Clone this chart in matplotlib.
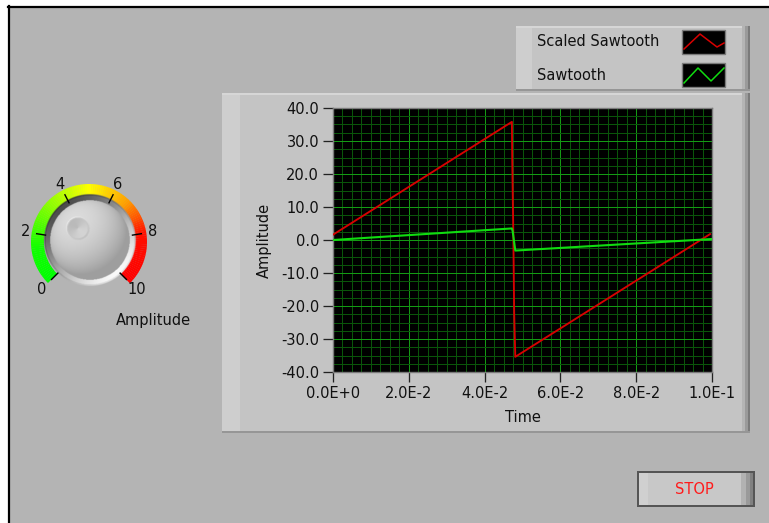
import numpy as np
import matplotlib
matplotlib.use("Agg")
import matplotlib.pyplot as plt
from matplotlib.patches import Rectangle, Wedge
from matplotlib.colors import LinearSegmentedColormap
from matplotlib.ticker import MultipleLocator, FixedLocator, FixedFormatter

plt.rcParams['font.family'] = ['DejaVu Sans']
plt.rcParams['axes.unicode_minus'] = False

# ---------------- data ----------------
series_names = ["Scaled Sawtooth", "Sawtooth"]
time_scaled = [0.0, 0.0472, 0.0473, 0.0476, 0.0478, 0.0481, 0.0995]
scaled_sawtooth = [1.6, 35.8, 24.2, 0.0, -22.0, -35.4, 1.8]
time_saw = [0.0, 0.0472, 0.0474, 0.0481, 0.1000]
sawtooth = [0.0, 3.5, 2.7, -3.2, 0.3]

x_ticks = [0.0, 0.02, 0.04, 0.06, 0.08, 0.10]
x_tick_labels = ["0.0E+0", "2.0E-2", "4.0E-2", "6.0E-2", "8.0E-2", "1.0E-1"]
y_ticks = [-40, -30, -20, -10, 0, 10, 20, 30, 40]
y_tick_labels = ["-40.0", "-30.0", "-20.0", "-10.0", "0.0", "10.0", "20.0", "30.0", "40.0"]

knob_values = [0, 2, 4, 6, 8, 10]
knob_labels = ["0", "2", "4", "6", "8", "10"]
knob_value = 3.3

W, H = 769, 523
FS = 10.5
PX = 0.72  # one pixel in points
fig = plt.figure(figsize=(W / 100, H / 100), dpi=100)
fig.patch.set_facecolor('white')

bg = fig.add_axes([0, 0, 1, 1])
bg.set_xlim(0, W)
bg.set_ylim(H, 0)
bg.axis('off')


def rect(x0, y0, x1, y1, fc, z=1, ec='none', lw=0):
    bg.add_patch(Rectangle((x0, y0), x1 - x0, y1 - y0, facecolor=fc,
                           edgecolor=ec, lw=lw, zorder=z))


# panel
rect(8, 6, W, H, '#b4b4b4', z=0)
bg.plot([8.5, 8.5], [6, H], color='black', lw=1.6, zorder=1)
bg.plot([8, W], [6.5, 6.5], color='black', lw=1.6, zorder=1)

# graph frame
rect(222, 93, 750, 433, '#c4c4c4')
rect(222, 93, 240, 433, '#cecece', z=1.1)
rect(222, 93, 750, 94.5, '#d6d6d6', z=1.2)
rect(742, 93, 745, 433, '#b4b4b4', z=1.2)
rect(745, 93, 748, 433, '#9a9a9a', z=1.2)
rect(748, 93, 750, 433, '#7a7a7a', z=1.2)
rect(222, 431, 750, 433, '#969696', z=1.2)

# legend frame
rect(516, 26, 750, 91, '#c4c4c4')
rect(516, 26, 532, 91, '#cecece', z=1.1)
rect(516, 26, 750, 27.5, '#d6d6d6', z=1.2)
rect(742, 26, 745, 91, '#b4b4b4', z=1.2)
rect(745, 26, 748, 91, '#9a9a9a', z=1.2)
rect(748, 26, 750, 91, '#7a7a7a', z=1.2)
rect(516, 89, 750, 91, '#969696', z=1.2)

legend_colors = ['#d80000', '#10dc10']
row_y = [42, 75]
sw_shapes = [([684, 700, 717, 724], [49, 34, 47, 43]),
             ([684, 698, 711, 724], [83, 68, 81, 68])]
for name, col, ry, (sx, sy) in zip(series_names, legend_colors, row_y, sw_shapes):
    bg.text(537, ry, name, fontsize=FS, color='#111111', ha='left', va='center', zorder=3)
    rect(682, ry - 12, 725, ry + 12, 'black', z=2, ec='#7a7a7a', lw=1)
    bg.plot(sx, sy, color=col, lw=1.1, zorder=3)

# stop button
rect(637, 471, 755, 507, '#555555', z=1)
rect(639, 473, 753, 505, '#c8c8c8', z=1.1)
rect(639, 473, 648, 505, '#d0d0d0', z=1.2)
rect(741, 473, 746, 505, '#b2b2b2', z=1.2)
rect(746, 473, 750, 505, '#9a9a9a', z=1.2)
rect(750, 473, 753, 505, '#808080', z=1.2)
bg.text(694, 490, "STOP", fontsize=FS, color='#ff1a1a', ha='center', va='center', zorder=3)

# ---------------- knob ----------------
cx, cy = 89, 242
r_out, r_in = 58, 45
cmap = LinearSegmentedColormap.from_list('knob', [
    (0.0, '#00ff00'), (0.14, '#10ff00'), (0.5, '#ffff00'),
    (0.66, '#ffa000'), (0.8, '#ff1000'), (1.0, '#ff0000')])
nseg = 120
for i in range(nseg):
    v0 = 10 * i / nseg
    v1 = 10 * (i + 1) / nseg
    bg.add_patch(Wedge((cx, cy), r_out, 27 * v0 - 225, 27 * v1 - 225 + 0.3,
                       width=r_out - r_in, facecolor=cmap((v0 + v1) / 20),
                       edgecolor='none', zorder=2))

for v, lab in zip(knob_values, knob_labels):
    phi = np.deg2rad(225 - 27 * v)
    x0, y0 = cx + 44 * np.cos(phi), cy - 44 * np.sin(phi)
    x1, y1 = cx + 53 * np.cos(phi), cy - 53 * np.sin(phi)
    bg.plot([x0, x1], [y0, y1], color='black', lw=1.0, zorder=4)
    R = 67 if v in (0, 10) else 64
    bg.text(cx + R * np.cos(phi), cy - R * np.sin(phi), lab, fontsize=FS,
            ha='center', va='center', color='#111111', zorder=4)

bg.text(153, 321, "Amplitude", fontsize=FS, ha='center', va='center', color='#111111', zorder=4)

# knob body (shaded image)
kx, ky = 90, 240
RB = 48
n = 200
g = np.linspace(-RB, RB, n)
X, Y = np.meshgrid(g, g)
rr = np.sqrt(X ** 2 + Y ** 2)
img = np.zeros((n, n, 4))
ang = np.arctan2(Y, X)  # y down
bez = 0.64 + 0.34 * np.cos(ang - np.deg2rad(50))
bez = np.where(rr > 44.5, bez - 0.08, bez)
rb = 40.0
nx = X / rb
ny = Y / rb
nz = np.sqrt(np.clip(1 - nx ** 2 - ny ** 2, 0, 1))
L = np.array([-0.40, -0.50, 0.77])
L = L / np.linalg.norm(L)
dot = nx * L[0] + ny * L[1] + nz * L[2]
ball = 0.62 + 0.24 * np.clip(dot, 0, 1)
shade = np.where(rr < rb, ball, bez)
pphi = np.deg2rad(225 - 27 * knob_value)
dx, dy = 17 * np.cos(pphi), -17 * np.sin(pphi)
dr = np.sqrt((X - dx) ** 2 + (Y - dy) ** 2)
dang = np.arctan2(Y - dy, X - dx)
dimple = 0.78 + 0.05 * np.cos(dang - np.deg2rad(45))
shade = np.where(dr < 11, dimple, shade)
rim = (dr >= 10) & (dr < 12)
shade = np.where(rim, shade - 0.06 * np.cos(dang - np.deg2rad(45)), shade)
shade = np.clip(shade, 0, 1)
img[..., 0] = shade
img[..., 1] = shade
img[..., 2] = shade
img[..., 3] = np.clip(46.5 - rr, 0, 1)
bg.imshow(img, extent=(kx - RB, kx + RB, ky + RB, ky - RB), origin='upper',
          interpolation='bilinear', zorder=3)
bg.set_xlim(0, W)
bg.set_ylim(H, 0)

# ---------------- graph ----------------
left, right, top, bottom = 333, 712, 108, 372
ax = fig.add_axes([left / W, 1 - bottom / H, (right - left) / W, (bottom - top) / H])
ax.set_facecolor('black')
ax.set_xlim(0, 0.1)
ax.set_ylim(-40, 40)
ax.xaxis.set_major_locator(FixedLocator(x_ticks))
ax.xaxis.set_major_formatter(FixedFormatter(x_tick_labels))
ax.yaxis.set_major_locator(FixedLocator(y_ticks))
ax.yaxis.set_major_formatter(FixedFormatter(y_tick_labels))
ax.xaxis.set_minor_locator(MultipleLocator(0.0025))
ax.yaxis.set_minor_locator(MultipleLocator(2.5))
ax.grid(which='minor', color='#0a550a', lw=PX, antialiased=False)
ax.grid(which='major', color='#149a14', lw=PX, antialiased=False)
ax.set_axisbelow(True)
ax.tick_params(which='minor', length=0)
ax.tick_params(which='major', direction='out', length=7, width=PX * 1.3, color='#222222',
               labelsize=FS, labelcolor='#111111', pad=3)
for s in ax.spines.values():
    s.set_color('#7a7a7a')
    s.set_linewidth(1.0)

ax.plot(time_scaled, scaled_sawtooth, color=legend_colors[0], lw=1.35, zorder=3)
ax.plot(time_saw, sawtooth, color=legend_colors[1], lw=1.5, zorder=3)

ax.set_xlabel("Time", fontsize=FS, color='#111111')
ax.set_ylabel("Amplitude", fontsize=FS, color='#111111')
ax.xaxis.set_label_coords(0.5, (bottom - 417) / (bottom - top))
ax.xaxis.label.set_va('center')
ax.yaxis.set_label_coords((264 - left) / (right - left), 0.5)
ax.yaxis.label.set_va('center')

fig.savefig("out.png", dpi=100)
